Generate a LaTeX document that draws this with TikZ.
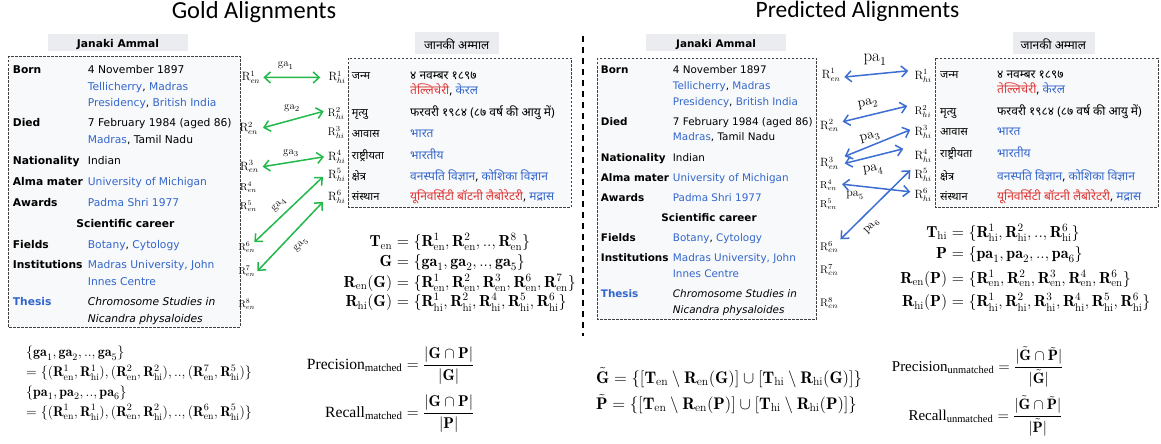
\RequirePackage{fix-cm}
\documentclass[tikz,border=0pt]{standalone}
\usepackage{amsmath}
\usepackage{fontspec}
\newfontfamily\wiki{DejaVu Sans}
\newfontfamily\hin[Script=Devanagari]{Noto Sans}
\newfontfamily\ttl{Carlito}
\newfontfamily\tms{Liberation Serif}
\usetikzlibrary{arrows.meta}
\definecolor{lnk}{HTML}{3366CC}
\definecolor{rdl}{HTML}{DD3333}
\definecolor{hdr}{HTML}{EAECF0}
\definecolor{boxbg}{HTML}{F8F9FA}
\definecolor{gra}{RGB}{34,185,74}
\definecolor{bla}{RGB}{60,110,210}
\newcommand\wlink[1]{\textcolor{lnk}{#1}}
\newcommand\wred[1]{\textcolor{rdl}{#1}}
\newcommand\Rx[2]{\mathbf{R}^{#1}_{\mathrm{#2}}}
\newcommand\Rl[2]{\mathrm{R}^{#1}_{#2}}
\begin{document}
\begin{tikzpicture}[x=1pt,y=-1pt,
  wl/.style={anchor=base west, inner sep=0, font=\wiki\bfseries\fontsize{10.7}{12}\selectfont},
  wv/.style={anchor=base west, inner sep=0, font=\wiki\fontsize{10.7}{12}\selectfont},
  wl2/.style={wl, font=\wiki\bfseries\fontsize{10.4}{12}\selectfont},
  wv2/.style={wv, font=\wiki\fontsize{10.4}{12}\selectfont},
  hl/.style={anchor=base west, inner sep=0, font=\hin\fontsize{11}{13}\selectfont},
  hv/.style={anchor=base west, inner sep=0, font=\hin\fontsize{12}{13}\selectfont},
  hh/.style={anchor=base, inner sep=0, font=\hin\fontsize{12}{14}\selectfont},
  rbig/.style={anchor=base west, inner sep=0, font=\fontsize{12}{14}\selectfont},
  rmid/.style={rbig, font=\fontsize{11}{13}\selectfont},
  rsml/.style={rbig, font=\fontsize{10}{12}\selectfont},
  infobox/.style={draw=black!75, dash pattern=on 2.5pt off 1.5pt, fill=boxbg, line width=0.8pt},
  gaa/.style={gra, line width=1.5pt, {Straight Barb[length=6pt,width=11pt]}-{Straight Barb[length=6pt,width=11pt]}},
  paa/.style={bla, line width=1.5pt, {Straight Barb[length=6pt,width=11pt]}-{Straight Barb[length=6pt,width=11pt]}},
  alab/.style={inner sep=0, font=\fontsize{11}{13}\selectfont},
  fl/.style={anchor=base east, inner sep=0, font=\fontsize{16}{18}\selectfont},
  fr/.style={anchor=base west, inner sep=0, font=\fontsize{16}{18}\selectfont},
  bl/.style={anchor=base west, inner sep=0, font=\fontsize{14}{16}\selectfont},
  br/.style={anchor=base west, inner sep=0, font=\fontsize{16.8}{19}\selectfont},
  pr/.style={anchor=base west, inner sep=0, font=\fontsize{15}{18}\selectfont}]
\useasboundingbox (0,0) rectangle (1161,444);
\fill[white] (0,0) rectangle (1161,444);

% titles
\node[anchor=base, inner sep=0, font=\ttl\fontsize{24.5}{27}\selectfont] (t1) at (254,18.5) {Gold Alignments};
\node[anchor=base, inner sep=0, font=\ttl\fontsize{23.5}{27}\selectfont] (t2) at (857.5,17.5) {Predicted Alignments};

% separator
\draw[line width=1.3pt, dash pattern=on 6pt off 5pt] (583,36) -- (583,336);

% ===== LEFT infobox =====
\fill[hdr] (48,34) rectangle (188,51);
\node[wl, anchor=base] (h1) at (118,48) {Janaki Ammal};
\draw[infobox] (8.3,56) rectangle (240,327);
\node[wl] (a1) at (12.7,73.3) {Born};
\node[wv] (a2) at (87.7,73.3) {4 November 1897};
\node[wv] (a3) at (87.7,90) {\wlink{Tellicherry}, \wlink{Madras}};
\node[wv] (a4) at (87.7,106) {\wlink{Presidency}, \wlink{British India}};
\node[wl] (a5) at (12.7,126.7) {Died};
\node[wv] (a6) at (87.7,126.7) {7 February 1984 (aged 86)};
\node[wv] (a7) at (87.7,143.3) {\wlink{Madras}, Tamil Nadu};
\node[wl] (a8) at (12.7,164) {Nationality};
\node[wv] (a9) at (87.7,164) {Indian};
\node[wl] (a10) at (12.7,185.3) {Alma mater};
\node[wv] (a11) at (87.7,185.3) {\wlink{University of Michigan}};
\node[wl] (a12) at (12.7,206.7) {Awards};
\node[wv] (a13) at (87.7,206.7) {\wlink{Padma Shri 1977}};
\node[wl, anchor=base] (a14) at (125.5,227.3) {Scientific career};
\node[wl] (a15) at (12.7,248.3) {Fields};
\node[wv] (a16) at (87.7,248.3) {\wlink{Botany}, \wlink{Cytology}};
\node[wl] (a17) at (12.7,268.7) {Institutions};
\node[wv] (a18) at (87.7,268.7) {\wlink{Madras University, John}};
\node[wv] (a19) at (87.7,285) {\wlink{Innes Centre}};
\node[wl, text=lnk] (a20) at (12.7,305.7) {Thesis};
\node[wv, font=\wiki\itshape\fontsize{10.7}{12}\selectfont] (a21) at (87.7,305.7) {Chromosome Studies in};
\node[wv, font=\wiki\itshape\fontsize{10.7}{12}\selectfont] (a22) at (87.7,322) {Nicandra physaloides};

% ===== LEFT hindi box =====
\fill[hdr] (415,32) rectangle (499,54);
\node[hh] (hh1) at (456.7,49) {जानकी अम्माल};
\draw[infobox] (348,58) rectangle (571,207);
\node[hl] (b1) at (351.7,79) {जन्म};
\node[hv] (b2) at (410,79) {४ नवम्बर १८९७};
\node[hv] (b3) at (410,94) {\wred{तेल्लिचेरी}, \wlink{केरल}};
\node[hl] (b4) at (351.7,116) {मृत्यु};
\node[hv] (b5) at (410,116) {फरवरी १९८४ (८७ वर्ष की आयु में)};
\node[hl] (b6) at (351.7,137) {आवास};
\node[hv] (b7) at (410,137) {\wlink{भारत}};
\node[hl] (b8) at (351.7,159) {राष्ट्रीयता};
\node[hv] (b9) at (410,159) {\wlink{भारतीय}};
\node[hl] (b10) at (351.7,180) {क्षेत्र};
\node[hv] (b11) at (410,180) {\wlink{वनस्पति विज्ञान}, \wlink{कोशिका विज्ञान}};
\node[hl] (b12) at (351.7,200.5) {संस्थान};
\node[hv] (b13) at (410,200.5) {\wred{यूनिवर्सिटी बॉटनी लैबोरेटरी}, \wlink{मद्रास}};

% left R labels
\node[rbig] (gen1) at (241.7,80.7) {$\Rl{1}{en}$};
\node[rbig] (gen2) at (239.3,131.7) {$\Rl{2}{en}$};
\node[rbig] (gen3) at (240,170) {$\Rl{3}{en}$};
\node[rsml] (gen4) at (240,190) {$\Rl{4}{en}$};
\node[rsml] (gen5) at (240,209) {$\Rl{5}{en}$};
\node[rsml] (gen6) at (238.3,250) {$\Rl{6}{en}$};
\node[rsml] (gen7) at (238.3,274) {$\Rl{7}{en}$};
\node[rsml] (gen8) at (238.3,307) {$\Rl{8}{en}$};
\node[rbig] (ghi1) at (328.3,80.7) {$\Rl{1}{hi}$};
\node[rmid] (ghi2) at (327.7,116) {$\Rl{2}{hi}$};
\node[rmid] (ghi3) at (327.7,135) {$\Rl{3}{hi}$};
\node[rbig] (ghi4) at (328,160) {$\Rl{4}{hi}$};
\node[rbig] (ghi5) at (328,178) {$\Rl{5}{hi}$};
\node[rbig] (ghi6) at (328,200) {$\Rl{6}{hi}$};

% green arrows
\draw[gaa] ([xshift=3pt]gen1.east) -- ([xshift=-8pt]ghi1.west);
\draw[gaa] ([xshift=5pt,yshift=0.6pt]gen2.east) -- ([xshift=-4pt,yshift=1.8pt]ghi2.west);
\draw[gaa] ([xshift=4pt]gen3.east) -- ([xshift=-4pt]ghi4.west);
\draw[gaa] ([xshift=-1pt,yshift=5pt]gen6.east) -- ([xshift=-5pt,yshift=-2pt]ghi5.west);
\draw[gaa] ([xshift=2pt]gen7.east) -- ([xshift=-5pt,yshift=-5pt]ghi6.west);
\node[alab] (ga1) at (285.7,65.7) {$\mathrm{ga}_1$};
\node[alab] (ga2) at (292,108) {$\mathrm{ga}_2$};
\node[alab] (ga3) at (291,153) {$\mathrm{ga}_3$};
\node[alab, rotate=45] (ga4) at (279,205) {$\mathrm{ga}_4$};
\node[alab, rotate=45] (ga5) at (301,245) {$\mathrm{ga}_5$};

% left formulas
\node[fl] (f1l) at (392.3,246.7) {$\mathbf{T}_{\mathrm{en}}$};
\node[fr] (f1r) at (392.3,246.7) {${}=\{\Rx{1}{en},\Rx{2}{en},..,\Rx{8}{en}\}$};
\node[fl] (f2l) at (392.3,266.7) {$\mathbf{G}$};
\node[fr] (f2r) at (392.3,266.7) {${}=\{\mathbf{ga}_1,\mathbf{ga}_2,..,\mathbf{ga}_5\}$};
\node[fl] (f3l) at (392.3,287.3) {$\mathbf{R}_{\mathrm{en}}(\mathbf{G})$};
\node[fr] (f3r) at (392.3,287.3) {${}=\{\Rx{1}{en},\Rx{2}{en},\Rx{3}{en},\Rx{6}{en},\Rx{7}{en}\}$};
\node[fl] (f4l) at (392.3,306.7) {$\mathbf{R}_{\mathrm{hi}}(\mathbf{G})$};
\node[fr] (f4r) at (392.3,306.7) {${}=\{\Rx{1}{hi},\Rx{2}{hi},\Rx{4}{hi},\Rx{5}{hi},\Rx{6}{hi}\}$};

% bottom-left
\node[bl] (g1) at (26,356.7) {$\{\mathbf{ga}_1,\mathbf{ga}_2,..,\mathbf{ga}_5\}$};
\node[bl] (g2) at (26,376.7) {$=\{(\Rx{1}{en},\Rx{1}{hi}),(\Rx{2}{en},\Rx{2}{hi}),..,(\Rx{7}{en},\Rx{5}{hi})\}$};
\node[bl] (g3) at (26,396) {$\{\mathbf{pa}_1,\mathbf{pa}_2,..,\mathbf{pa}_6\}$};
\node[bl] (g4) at (26,416) {$=\{(\Rx{1}{en},\Rx{1}{hi}),(\Rx{2}{en},\Rx{2}{hi}),..,(\Rx{6}{en},\Rx{5}{hi})\}$};
\node[pr, font=\fontsize{15.6}{18}\selectfont] (pm) at (306.7,369.3) {$\text{\tms Precision}_{\text{\tms matched}}=\dfrac{|\mathbf{G}\cap\mathbf{P}|}{|\mathbf{G}|}$};
\node[pr, font=\fontsize{15.6}{18}\selectfont] (rm) at (325,417.3) {$\text{\tms Recall}_{\text{\tms matched}}=\dfrac{|\mathbf{G}\cap\mathbf{P}|}{|\mathbf{P}|}$};

% ===== RIGHT infobox =====
\fill[hdr] (646,34) rectangle (786,51);
\node[wl2, anchor=base] (h2) at (716,48) {Janaki Ammal};
\draw[infobox] (597,58) rectangle (816.7,319);
\node[wl2] (c1) at (600.7,73.3) {Born};
\node[wv2] (c2) at (672.7,73.3) {4 November 1897};
\node[wv2] (c3) at (672.7,89.3) {\wlink{Tellicherry}, \wlink{Madras}};
\node[wv2] (c4) at (672.7,105) {\wlink{Presidency}, \wlink{British India}};
\node[wl2] (c5) at (600.7,125) {Died};
\node[wv2] (c6) at (672.7,125) {7 February 1984 (aged 86)};
\node[wv2] (c7) at (672.7,140.7) {\wlink{Madras}, Tamil Nadu};
\node[wl2] (c8) at (600.7,161) {Nationality};
\node[wv2] (c9) at (672.7,161) {Indian};
\node[wl2] (c10) at (600.7,181) {Alma mater};
\node[wv2] (c11) at (672.7,181) {\wlink{University of Michigan}};
\node[wl2] (c12) at (600.7,201.7) {Awards};
\node[wv2] (c13) at (672.7,201.7) {\wlink{Padma Shri 1977}};
\node[wl2, anchor=base] (c14) at (709,221.7) {Scientific career};
\node[wl2] (c15) at (600.7,241.7) {Fields};
\node[wv2] (c16) at (672.7,241.7) {\wlink{Botany}, \wlink{Cytology}};
\node[wl2] (c17) at (600.7,261.7) {Institutions};
\node[wv2] (c18) at (672.7,261.7) {\wlink{Madras University, John}};
\node[wv2] (c19) at (672.7,277.3) {\wlink{Innes Centre}};
\node[wl2, text=lnk] (c20) at (600.7,297.3) {Thesis};
\node[wv2, font=\wiki\itshape\fontsize{10.4}{12}\selectfont] (c21) at (672.7,297.3) {Chromosome Studies in};
\node[wv2, font=\wiki\itshape\fontsize{10.4}{12}\selectfont] (c22) at (672.7,313.3) {Nicandra physaloides};

% ===== RIGHT hindi box =====
\fill[hdr] (1013,32) rectangle (1095,54);
\node[hh] (hh2) at (1053.3,49) {जानकी अम्माल};
\draw[infobox] (935,58.3) rectangle (1158,207);
\node[hl] (d1) at (940,78) {जन्म};
\node[hv] (d2) at (997,78) {४ नवम्बर १८९७};
\node[hv] (d3) at (997,93) {\wred{तेल्लिचेरी}, \wlink{केरल}};
\node[hl] (d4) at (940,115) {मृत्यु};
\node[hv] (d5) at (997,115) {फरवरी १९८४ (८७ वर्ष की आयु में)};
\node[hl] (d6) at (940,135) {आवास};
\node[hv] (d7) at (997,135) {\wlink{भारत}};
\node[hl] (d8) at (940,157) {राष्ट्रीयता};
\node[hv] (d9) at (997,157) {\wlink{भारतीय}};
\node[hl] (d10) at (940,180) {क्षेत्र};
\node[hv] (d11) at (997,180) {\wlink{वनस्पति विज्ञान}, \wlink{कोशिका विज्ञान}};
\node[hl] (d12) at (940,200) {संस्थान};
\node[hv] (d13) at (997,200) {\wred{यूनिवर्सिटी बॉटनी लैबोरेटरी}, \wlink{मद्रास}};

% right R labels
\node[rbig] (pen1) at (821.7,78.3) {$\Rl{1}{en}$};
\node[rbig] (pen2) at (820,129) {$\Rl{2}{en}$};
\node[rbig] (pen3) at (820,166.7) {$\Rl{3}{en}$};
\node[rsml] (pen4) at (820,188) {$\Rl{4}{en}$};
\node[rsml] (pen5) at (820,207) {$\Rl{5}{en}$};
\node[rmid] (pen6) at (820,250) {$\Rl{6}{en}$};
\node[rmid] (pen7) at (820,273) {$\Rl{7}{en}$};
\node[rmid] (pen8) at (820,306) {$\Rl{8}{en}$};
\node[rbig] (phi1) at (914.3,79) {$\Rl{1}{hi}$};
\node[rmid] (phi2) at (914.3,114) {$\Rl{2}{hi}$};
\node[rbig] (phi3) at (914.3,135) {$\Rl{3}{hi}$};
\node[rbig] (phi4) at (914.3,159) {$\Rl{4}{hi}$};
\node[rbig] (phi5) at (914.3,178) {$\Rl{5}{hi}$};
\node[rbig] (phi6) at (914.3,198) {$\Rl{6}{hi}$};

% blue arrows
\draw[paa] ([xshift=4pt,yshift=-2pt]pen1.east) -- ([xshift=-6pt,yshift=5pt]phi1.west);
\draw[paa] ([xshift=4pt,yshift=4pt]pen2.east) -- ([xshift=-7pt,yshift=5pt]phi2.west);
\draw[paa] ([xshift=6pt,yshift=7pt]pen3.east) -- ([xshift=-4pt,yshift=2pt]phi3.west);
\draw[paa] ([xshift=6pt]pen3.east) -- ([xshift=-11pt,yshift=7pt]phi4.west);
\draw[paa] ([xshift=5pt,yshift=1pt]pen4.east) -- ([xshift=-4pt,yshift=3pt]phi6.west);
\draw[paa] ([xshift=2pt,yshift=7.6pt]pen6.east) -- ([xshift=-4pt,yshift=4.6pt]phi5.west);
\node[alab, font=\fontsize{17}{19}\selectfont] (pa1) at (875,60) {$\mathrm{pa}_1$};
\node[alab, font=\fontsize{14}{16}\selectfont, rotate=10] (pa2) at (868,104) {$\mathrm{pa}_2$};
\node[alab, font=\fontsize{14}{16}\selectfont, rotate=15] (pa3) at (870,137.3) {$\mathrm{pa}_3$};
\node[alab, font=\fontsize{14}{16}\selectfont, rotate=8] (pa4) at (873,170) {$\mathrm{pa}_4$};
\node[alab, font=\fontsize{12}{14}\selectfont] (pa5) at (855,195) {$\mathrm{pa}_5$};
\node[alab, font=\fontsize{12}{14}\selectfont, rotate=45] (pa6) at (871.7,226.7) {$\mathrm{pa}_6$};

% right formulas
\node[fl] (e1l) at (947.3,237) {$\mathbf{T}_{\mathrm{hi}}$};
\node[fr] (e1r) at (947.3,237) {${}=\{\Rx{1}{hi},\Rx{2}{hi},..,\Rx{6}{hi}\}$};
\node[fl] (e2l) at (947.3,258.5) {$\mathbf{P}$};
\node[fr] (e2r) at (947.3,258.5) {${}=\{\mathbf{pa}_1,\mathbf{pa}_2,..,\mathbf{pa}_6\}$};
\node[fl] (e3l) at (947.3,283) {$\mathbf{R}_{\mathrm{en}}(\mathbf{P})$};
\node[fr] (e3r) at (947.3,283) {${}=\{\Rx{1}{en},\Rx{2}{en},\Rx{3}{en},\Rx{4}{en},\Rx{6}{en}\}$};
\node[fl] (e4l) at (947.3,306.7) {$\mathbf{R}_{\mathrm{hi}}(\mathbf{P})$};
\node[fr] (e4r) at (947.3,306.7) {${}=\{\Rx{1}{hi},\Rx{2}{hi},\Rx{3}{hi},\Rx{4}{hi},\Rx{5}{hi},\Rx{6}{hi}\}$};

% bottom-right
\node[br] (u1) at (596,383.3) {$\tilde{\mathbf{G}}=\{[\mathbf{T}_{\mathrm{en}}\setminus\mathbf{R}_{\mathrm{en}}(\mathbf{G})]\cup[\mathbf{T}_{\mathrm{hi}}\setminus\mathbf{R}_{\mathrm{hi}}(\mathbf{G})]\}$};
\node[br] (u2) at (596,409.3) {$\tilde{\mathbf{P}}=\{[\mathbf{T}_{\mathrm{en}}\setminus\mathbf{R}_{\mathrm{en}}(\mathbf{P})]\cup[\mathbf{T}_{\mathrm{hi}}\setminus\mathbf{R}_{\mathrm{hi}}(\mathbf{P})]\}$};
\node[pr] (pu) at (891.7,371) {$\text{\tms Precision}_{\text{\tms unmatched}}=\dfrac{|\tilde{\mathbf{G}}\cap\tilde{\mathbf{P}}|}{|\tilde{\mathbf{G}}|}$};
\node[pr] (ru) at (908.3,420) {$\text{\tms Recall}_{\text{\tms unmatched}}=\dfrac{|\tilde{\mathbf{G}}\cap\tilde{\mathbf{P}}|}{|\tilde{\mathbf{P}}|}$};
\end{tikzpicture}
\end{document}
